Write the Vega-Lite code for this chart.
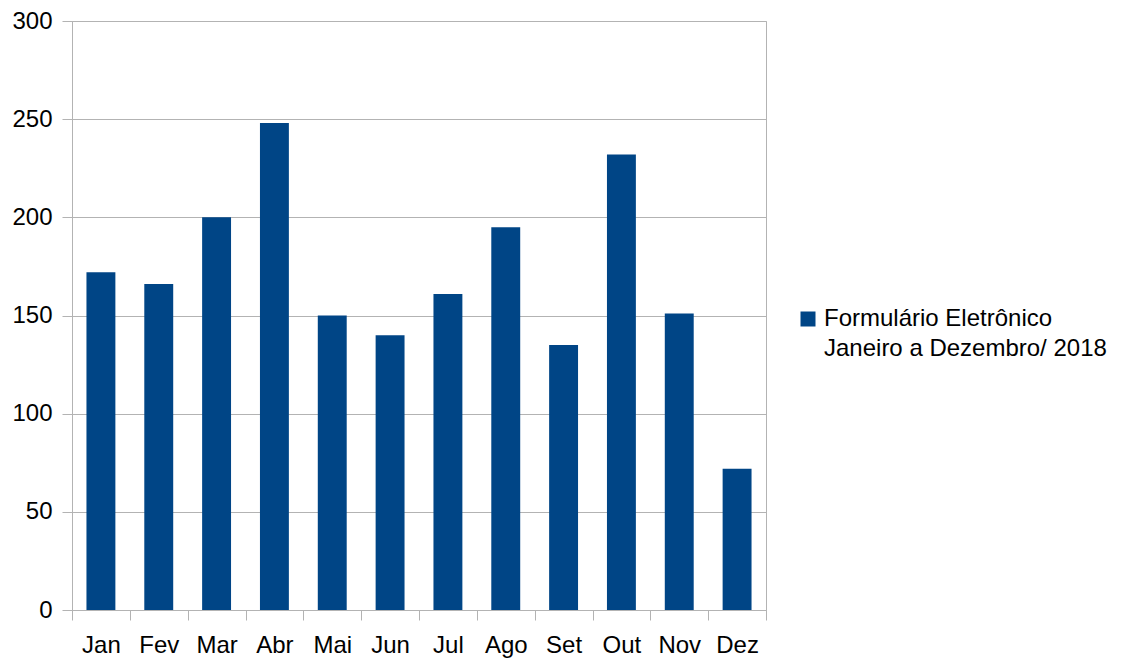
{
  "$schema": "https://vega.github.io/schema/vega-lite/v6.json",
  "width": 694,
  "height": 589,
  "autosize": {"type": "none"},
  "padding": {"left": 72, "top": 21, "right": 366, "bottom": 51},
  "background": "white",
  "config": {
    "font": "Liberation Sans",
    "view": {"stroke": "#b3b3b3", "strokeWidth": 1},
    "style": {"guide-label": {"lineHeight": 30}},
    "axis": {"domainColor": "#b3b3b3", "tickColor": "#b3b3b3", "gridColor": "#b3b3b3", "labelColor": "#000000", "labelFont": "Liberation Sans", "labelFontSize": 24, "tickSize": 10, "titleFontSize": 0}
  },
  "data": {
    "values": [
      {"mes": "Jan", "valor": 172, "serie": "Formulário Eletrônico|Janeiro a Dezembro/ 2018"},
      {"mes": "Fev", "valor": 166, "serie": "Formulário Eletrônico|Janeiro a Dezembro/ 2018"},
      {"mes": "Mar", "valor": 200, "serie": "Formulário Eletrônico|Janeiro a Dezembro/ 2018"},
      {"mes": "Abr", "valor": 248, "serie": "Formulário Eletrônico|Janeiro a Dezembro/ 2018"},
      {"mes": "Mai", "valor": 150, "serie": "Formulário Eletrônico|Janeiro a Dezembro/ 2018"},
      {"mes": "Jun", "valor": 140, "serie": "Formulário Eletrônico|Janeiro a Dezembro/ 2018"},
      {"mes": "Jul", "valor": 161, "serie": "Formulário Eletrônico|Janeiro a Dezembro/ 2018"},
      {"mes": "Ago", "valor": 195, "serie": "Formulário Eletrônico|Janeiro a Dezembro/ 2018"},
      {"mes": "Set", "valor": 135, "serie": "Formulário Eletrônico|Janeiro a Dezembro/ 2018"},
      {"mes": "Out", "valor": 232, "serie": "Formulário Eletrônico|Janeiro a Dezembro/ 2018"},
      {"mes": "Nov", "valor": 151, "serie": "Formulário Eletrônico|Janeiro a Dezembro/ 2018"},
      {"mes": "Dez", "valor": 72, "serie": "Formulário Eletrônico|Janeiro a Dezembro/ 2018"}
    ]
  },
  "mark": {"type": "bar", "width": {"band": 0.5}},
  "encoding": {
    "x": {
      "field": "mes",
      "type": "nominal",
      "sort": null,
      "scale": {"paddingInner": 0, "paddingOuter": 0},
      "axis": {"title": null, "labelAngle": 0, "tickBand": "extent", "labelPadding": 13, "domain": true}
    },
    "y": {
      "field": "valor",
      "type": "quantitative",
      "scale": {"domain": [0, 300], "nice": false},
      "axis": {"title": null, "values": [0, 50, 100, 150, 200, 250, 300], "labelPadding": 10, "grid": true}
    },
    "color": {
      "field": "serie",
      "type": "nominal",
      "scale": {"range": ["#004586"]},
      "legend": {
        "title": null,
        "orient": "none",
        "legendX": 724,
        "legendY": 286,
        "symbolType": "square",
        "symbolSize": 225,
        "symbolStrokeWidth": 0,
        "labelFontSize": 24,
        "labelFont": "Liberation Sans",
        "labelColor": "#000000",
        "labelLimit": 400,
        "labelOffset": 4,
        "labelExpr": "split(datum.label, '|')"
      }
    }
  }
}
